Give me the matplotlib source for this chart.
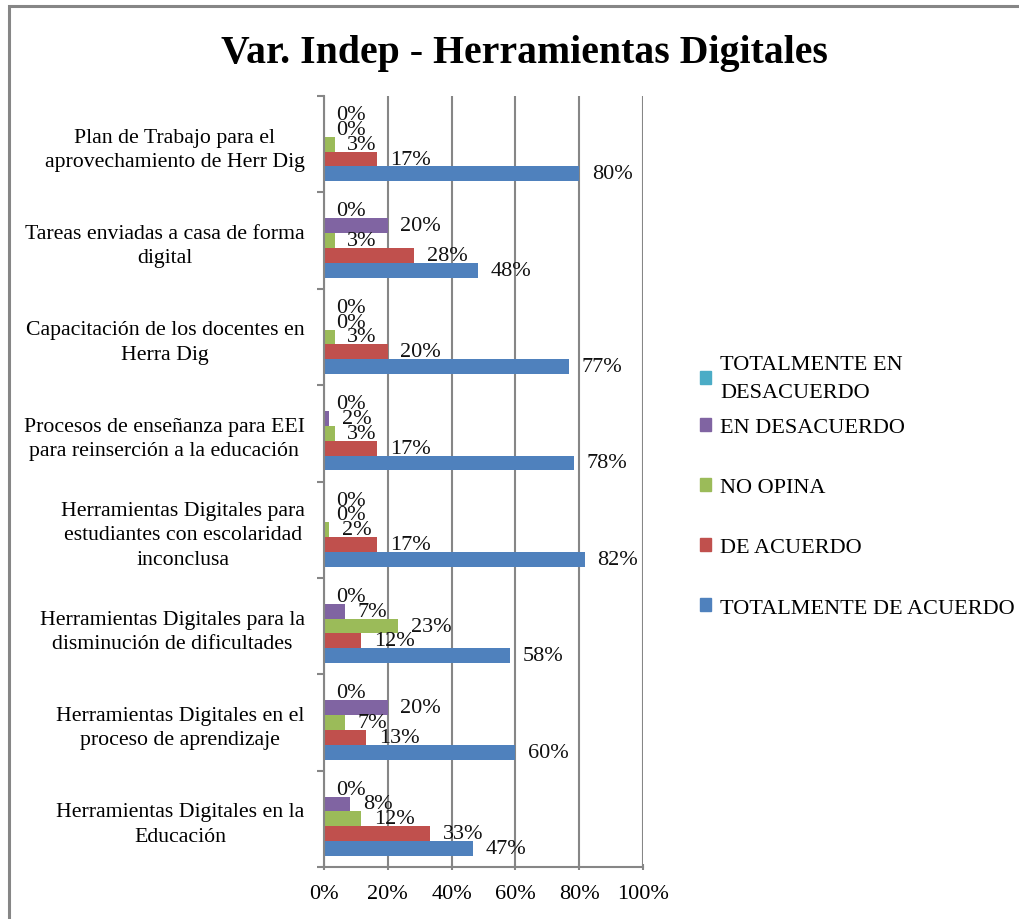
import numpy as np
import matplotlib
matplotlib.use('Agg')
import matplotlib.pyplot as plt
from matplotlib.patches import Patch, Rectangle

plt.rcParams['font.family'] = ['Liberation Serif', 'DejaVu Serif']

# Categories, bottom to top (as drawn)
categories = [
    'Herramientas Digitales en la\nEducación',
    'Herramientas Digitales en el\nproceso de aprendizaje',
    'Herramientas Digitales para la\ndisminución de dificultades',
    'Herramientas Digitales para\nestudiantes con escolaridad\ninconclusa',
    'Procesos de enseñanza para EEI\npara reinserción a la educación',
    'Capacitación de los docentes en\nHerra Dig',
    'Tareas enviadas a casa de forma\ndigital',
    'Plan de Trabajo para el\naprovechamiento de Herr Dig',
]

# percentages per series (same order as categories)
tot_acuerdo = [46.7, 60.0, 58.3, 81.7, 78.3, 76.7, 48.3, 80.0]
de_acuerdo = [33.3, 13.3, 11.7, 16.7, 16.7, 20.0, 28.3, 16.7]
no_opina = [11.7, 6.7, 23.3, 1.7, 3.3, 3.3, 3.3, 3.3]
en_desacuerdo = [8.3, 20.0, 6.7, 0.0, 1.7, 0.0, 20.0, 0.0]
tot_desacuerdo = [0, 0, 0, 0, 0, 0, 0, 0]

series = [
    ('TOTALMENTE DE ACUERDO', tot_acuerdo, '#4F81BD'),
    ('DE ACUERDO', de_acuerdo, '#C0504D'),
    ('NO OPINA', no_opina, '#9BBB59'),
    ('EN DESACUERDO', en_desacuerdo, '#8064A2'),
    ('TOTALMENTE EN\nDESACUERDO', tot_desacuerdo, '#4BACC6'),
]

fig = plt.figure(figsize=(10.2, 9.2), dpi=100)
ax = fig.add_axes([324 / 1020, 52 / 920, 319 / 1020, 771 / 920])

y = np.arange(len(categories))
bw = 1 / 6.5  # gap width 150%
for k, (name, vals, col) in enumerate(series):
    bars = ax.barh(y + (k - 2) * bw, vals, height=bw, color=col, label=name)
    ax.bar_label(bars, labels=['%d%%' % round(v) for v in vals],
                 padding=9, fontsize=16, color='#111111')

ax.set_xlim(0, 100)
ax.set_ylim(-0.5, len(categories) - 0.5)
ax.set_xticks(np.arange(0, 101, 20))
ax.set_xticklabels(['%d%%' % t for t in range(0, 101, 20)], fontsize=16)
ax.set_yticks(y)
ax.set_yticklabels(categories, fontsize=15.7, ma='center', linespacing=1.38)
ax.set_yticks(np.arange(-0.5, len(categories), 1), minor=True)

gray = '#868686'
ax.xaxis.grid(True, color=gray, lw=1.5)
ax.set_axisbelow(True)
for s in ['top', 'right']:
    ax.spines[s].set_visible(False)
for s in ['left', 'bottom']:
    ax.spines[s].set_color(gray)
    ax.spines[s].set_linewidth(1.5)
ax.tick_params(axis='y', which='major', length=0, pad=14)
ax.tick_params(axis='y', which='minor', length=5, width=1.5, color=gray)
ax.tick_params(axis='x', length=5, width=1.5, color=gray, direction='inout', pad=10)

fig.text(524 / 1020, 1 - 53 / 920, 'Var. Indep - Herramientas Digitales',
         ha='center', va='center', fontsize=28.6, fontweight='bold')

# legend: Excel lists series in reverse order; the two-line entry is
# split off so the single-line entries keep even spacing
handles = [Patch(color=col, label=name) for name, vals, col in series][::-1]
leg_kw = dict(loc='upper left', frameon=False, fontsize=16,
              handlelength=0.5, handleheight=0.5, handletextpad=0.42,
              labelspacing=1.84, borderpad=0, borderaxespad=0)
leg1 = fig.legend(handles=handles[:1], bbox_to_anchor=(700 / 1020, 1 - 356 / 920),
                  **leg_kw)
for t in leg1.get_texts():
    t.set_linespacing(1.65)
fig.legend(handles=handles[1:], bbox_to_anchor=(700 / 1020, 1 - 419 / 920),
           **leg_kw)

# outer chart frame
fig.patches.append(Rectangle((9 / 1020, -0.1), 1.2, 1.1 - 7 / 920,
                             transform=fig.transFigure, fill=False,
                             edgecolor=gray, lw=2.2))

fig.savefig('out.png', dpi=100)
